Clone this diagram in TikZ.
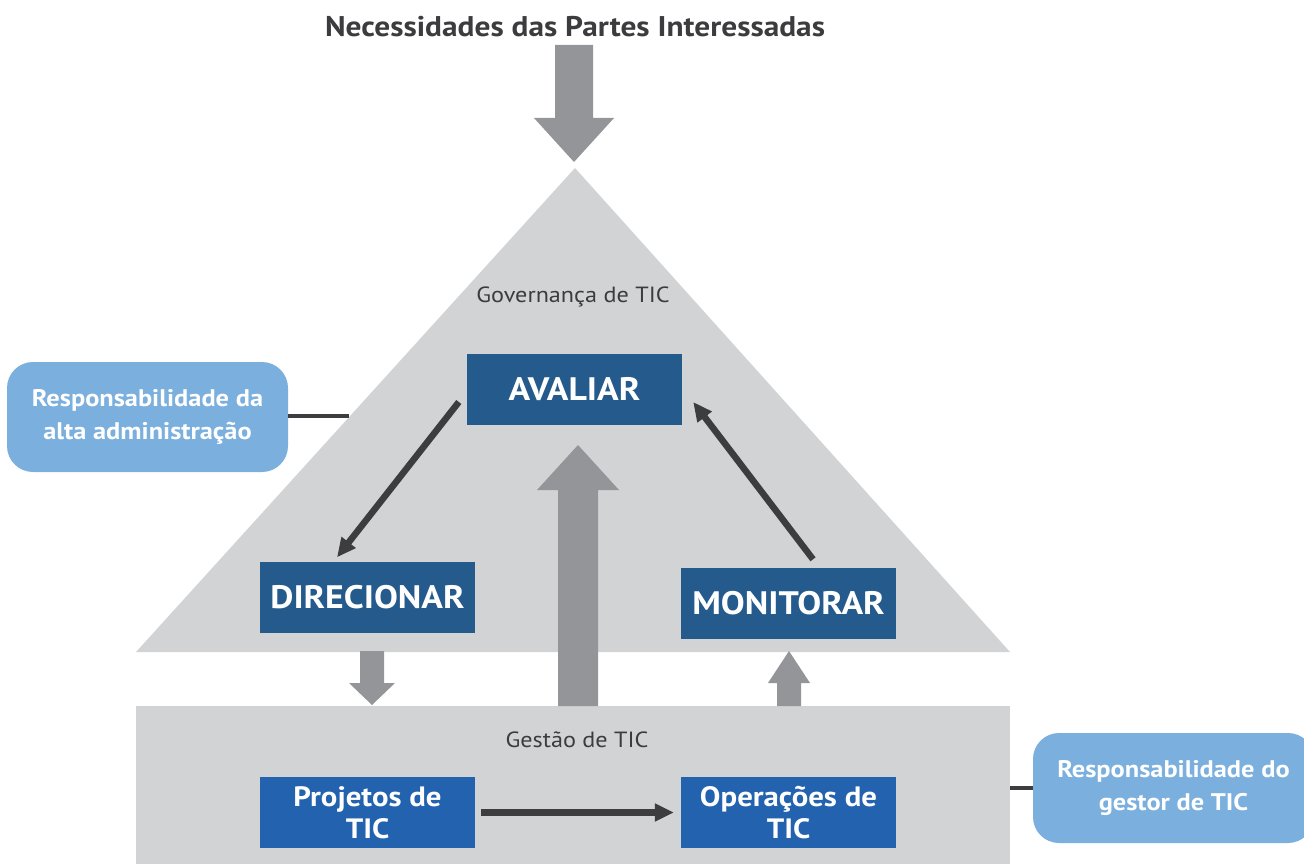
\documentclass[tikz,border=0pt]{standalone}
\usepackage{fontspec}
\setmainfont{PT Sans}[FakeStretch=1.1]
\usetikzlibrary{arrows.meta,calc}
\definecolor{tri}{HTML}{D1D3D4}
\definecolor{garr}{HTML}{939598}
\definecolor{dbox}{HTML}{245A8C}
\definecolor{bbox}{HTML}{2262AE}
\definecolor{lbox}{HTML}{7AAFDE}
\definecolor{dline}{HTML}{3D3D3F}
\definecolor{txt}{HTML}{3C3C3E}
\begin{document}
\begin{tikzpicture}[x=1pt,y=-1pt,
  govbox/.style={fill=dbox,text=white,font=\bfseries\fontsize{32.5}{34}\selectfont,minimum width=215pt,minimum height=71pt,inner sep=0pt},
  gesbox/.style={fill=bbox,text=white,font=\bfseries\fontsize{28}{32}\selectfont,minimum width=215pt,minimum height=71pt,inner sep=0pt,align=center},
  respbox/.style={fill=lbox,text=white,font=\bfseries\fontsize{24}{33}\selectfont,minimum width=281pt,minimum height=110pt,inner sep=0pt,align=center,rounded corners=26pt},
  lbl/.style={text=txt,font=\fontsize{22}{24}\selectfont,inner sep=0pt},
  darr/.style={draw=dline,line width=6.5pt,-{Triangle[length=19pt,width=17pt]}},
  conn/.style={draw=dline,line width=4pt},
  garrow/.style={fill=garr}
]
\useasboundingbox (0,0) rectangle (1304,864);
\clip (0,0) rectangle (1304,864);
% title
\node[text=txt,font=\bfseries\fontsize{28.5}{30}\selectfont,inner sep=0pt] (title) at (575,27) {Necessidades das Partes Interessadas};
% top arrow
\fill[garrow] (555,45) -- (593,45) -- (593,118) -- (614,118) -- (574,162) -- (534,118) -- (555,118) -- cycle;
% triangle and management area
\fill[tri] (575,168) -- (1010,652) -- (136,652) -- cycle;
\fill[tri] (136,706) rectangle (1010,870);
% gray block arrows
\fill[garrow] (558,706) -- (598,706) -- (598,490) -- (619,490) -- (578,445) -- (537,490) -- (558,490) -- cycle;
\fill[garrow] (360,651) -- (384,651) -- (384,683) -- (395,683) -- (372,705) -- (349,683) -- (360,683) -- cycle;
\fill[garrow] (777,706) -- (801,706) -- (801,683) -- (810,683) -- (789,651) -- (768,683) -- (777,683) -- cycle;
% labels
\node[lbl] (gov) at (573,297) {Governança de TIC};
\node[lbl] (ges) at (577,740) {Gestão de TIC};
% boxes
\node[govbox] (aval) at (574.5,389.5) {AVALIAR};
\node[govbox] (dir) at (367.5,597) {DIRECIONAR};
\node[govbox] (mon) at (788.5,603) {MONITORAR};
\node[gesbox] (proj) at (367.5,812.5) {Projetos de\\TIC};
\node[gesbox] (ops) at (788.5,812.5) {Operações de\\TIC};
\node[respbox] (resp1) at (147.5,417) {Responsabilidade da\\alta administração};
\node[respbox] (resp2) at (1173.5,788) {Responsabilidade do\\gestor de TIC};
% connectors
\coordinate (triL) at (349,416);
\coordinate (rectR) at (1010,788);
\draw[conn] (resp1.east |- triL) -- (triL);
\draw[conn] (rectR) -- (resp2.west |- rectR);
\draw[darr] ($(aval.west)+(-8,12.5)$) -- ($(dir.north)+(-30.5,-4)$);
\draw[darr] ($(mon.north)+(24.5,-8)$) -- ($(aval.east)+(11,12.5)$);
\draw[darr] ($(proj.east)+(6,0)$) -- ($(ops.west)+(-7,0)$);
\end{tikzpicture}
\end{document}
